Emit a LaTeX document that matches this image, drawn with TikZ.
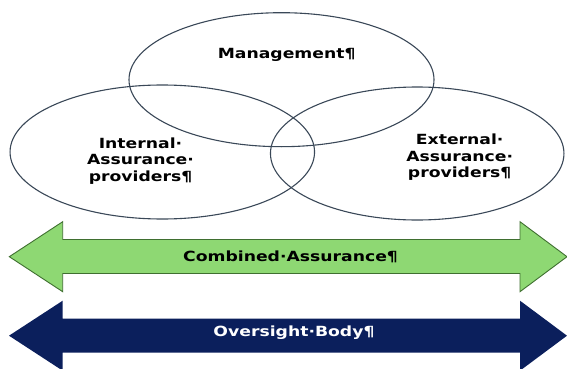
\documentclass[tikz,border=0pt]{standalone}
\usepackage{fontspec}
\usepackage{graphicx}
\setmainfont{DejaVu Sans}
\usetikzlibrary{shapes.geometric}
\definecolor{ringline}{HTML}{3A4858}
\definecolor{greenfill}{HTML}{8ED873}
\definecolor{greenline}{HTML}{3F6F30}
\definecolor{navy}{HTML}{0B1F5C}
\newcommand{\widetext}[1]{\scalebox{1.23}[1]{\begin{tabular}{@{}c@{}}#1\end{tabular}}}
\tikzset{
  ring/.style={draw=ringline, line width=1.1pt, ellipse, inner sep=0pt},
  lbl/.style={font=\bfseries\fontsize{14}{16.5}\selectfont, align=center, inner sep=0pt},
}
\begin{document}
\begin{tikzpicture}[x=1pt,y=-1pt]
\useasboundingbox (0,0) rectangle (567,369);
\clip (0,0) rectangle (567,369);
% ellipses
\node[ring, minimum width=305pt, minimum height=134pt] (mgmt) at (281.5,79.7) {};
\node[ring, minimum width=304.5pt, minimum height=134pt] (int) at (162.3,152) {};
\node[ring, minimum width=293.5pt, minimum height=133pt] (ext) at (417.2,153.5) {};
% labels
\node[lbl] (mgmtL) at (286.7,55) {\widetext{Management¶}};
\node[lbl] (intL) at (140.5,161.5) {\widetext{Internal·\\Assurance·\\providers¶}};
\node[lbl] (extL) at (459.7,158) {\widetext{External·\\Assurance·\\providers¶}};
% green double arrow
\draw[fill=greenfill, draw=greenline, line width=0.9pt]
  (9.3,256.7) -- (62.7,221.7) -- (62.7,239.5) -- (520,239.5) -- (520,221.7)
  -- (567,256.7) -- (520,291.7) -- (520,273.5) -- (62.7,273.5) -- (62.7,291.7) -- cycle;
\node[lbl] (comb) at (290.5,258.5) {\widetext{Combined·Assurance¶}};
% navy double arrow
\fill[navy]
  (9,335.7) -- (62.7,300.7) -- (62.7,318.5) -- (520,318.5) -- (520,300.7)
  -- (567,335.7) -- (520,370.7) -- (520,352.5) -- (62.7,352.5) -- (62.7,370.7) -- cycle;
\node[lbl, text=white] (over) at (294,333) {\widetext{Oversight·Body¶}};
\end{tikzpicture}
\end{document}
